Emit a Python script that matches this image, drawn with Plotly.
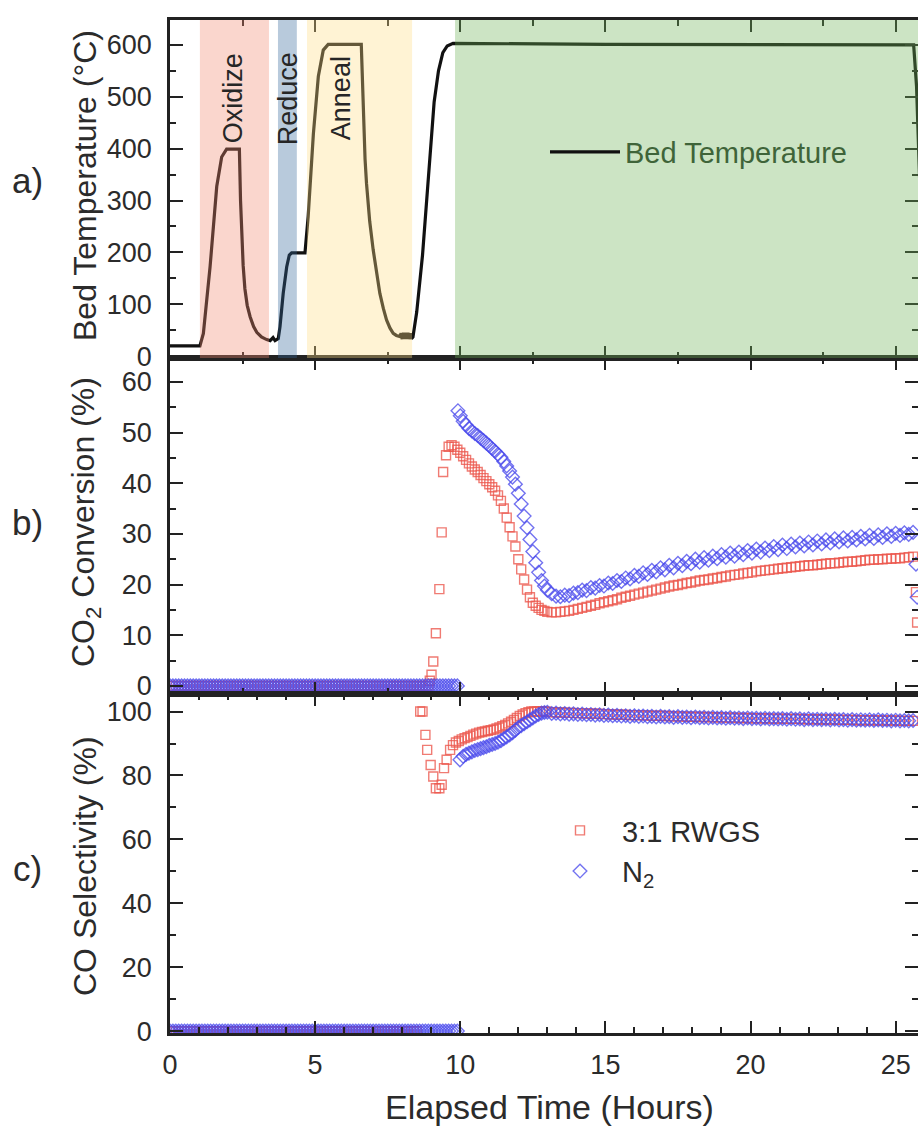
import plotly.graph_objects as go

# ---------------- data ----------------
# (a) bed temperature (hours, deg C)
temp_t = [0.0, 1.03, 1.15, 1.38, 1.61, 1.78, 1.95, 2.39, 2.43, 2.47, 2.52, 2.58, 2.66, 2.76, 2.88,
          2.99, 3.15, 3.33, 3.45, 3.55, 3.62,
          3.73, 3.79, 3.90, 4.02, 4.11, 4.19, 4.65, 4.76, 4.94, 5.11, 5.28, 5.45, 6.59, 6.63, 6.67,
          6.72, 6.77, 6.88, 7.00, 7.12, 7.23, 7.35, 7.46, 7.58, 7.69, 7.80,
          7.92, 7.96, 8.00, 8.04, 8.08, 8.12, 8.16, 8.20, 8.24, 8.28, 8.32, 8.37,
          8.50, 8.70, 8.90, 9.10, 9.25, 9.40, 9.55, 9.75, 15.0, 25.62, 25.72, 25.85]
temp_v = [20, 20, 44, 172, 327, 384, 399, 399, 300, 235, 175, 130, 98, 76, 57,
          46, 37, 32, 30, 36, 30,
          34, 57, 121, 172, 195, 199, 199, 269, 429, 539, 590, 601, 601, 520, 440,
          380, 333, 260, 205, 158, 121, 92, 70, 54, 44, 40,
          38, 44, 33, 45, 33, 45, 33, 45, 33, 44, 34, 37,
          85, 195, 345, 490, 550, 585, 598, 603, 601, 600, 520, 300]

# shaded process steps (hours)
step_names = ["Oxidize", "Reduce", "Anneal", "Reaction"]
step_start = [1.03, 3.72, 4.72, 9.82]
step_end = [3.41, 4.37, 8.34, 26.0]
step_colors = ["rgb(240,138,112)", "rgb(52,103,155)", "rgb(255,220,132)", "rgb(109,178,86)"]
label_x = [2.17, 4.06, 5.92]

# shared sampling times
base_t = [0.0, 0.1, 0.2, 0.3, 0.4, 0.5, 0.6, 0.7, 0.8, 0.9, 1.0, 1.1, 1.2, 1.3, 1.4, 1.5, 1.6, 1.7,
          1.8, 1.9, 2.0, 2.1, 2.2, 2.3, 2.4, 2.5, 2.6, 2.7, 2.8, 2.9, 3.0, 3.1, 3.2, 3.3, 3.4, 3.5,
          3.6, 3.7, 3.8, 3.9, 4.0, 4.1, 4.2, 4.3, 4.4, 4.5, 4.6, 4.7, 4.8, 4.9, 5.0, 5.1, 5.2, 5.3,
          5.4, 5.5, 5.6, 5.7, 5.8, 5.9, 6.0, 6.1, 6.2, 6.3, 6.4, 6.5, 6.6, 6.7, 6.8, 6.9, 7.0, 7.1,
          7.2, 7.3, 7.4, 7.5, 7.6, 7.7, 7.8, 7.9, 8.0, 8.1, 8.2, 8.3, 8.4, 8.5, 8.6, 8.7, 8.8, 8.9,
          9.0, 9.1, 9.2, 9.3, 9.4, 9.5, 9.6, 9.7, 9.8, 9.9]
late_t = [13.15, 13.30, 13.45, 13.60, 13.75, 13.90, 14.05, 14.20, 14.35, 14.50, 14.65, 14.80, 14.95,
          15.10, 15.25, 15.40, 15.55, 15.70, 15.85, 16.00, 16.15, 16.30, 16.45, 16.60, 16.75, 16.90,
          17.05, 17.20, 17.35, 17.50, 17.65, 17.80, 17.95, 18.10, 18.25, 18.40, 18.55, 18.70, 18.85,
          19.00, 19.15, 19.30, 19.45, 19.60, 19.75, 19.90, 20.05, 20.20, 20.35, 20.50, 20.65, 20.80,
          20.95, 21.10, 21.25, 21.40, 21.55, 21.70, 21.85, 22.00, 22.15, 22.30, 22.45, 22.60, 22.75,
          22.90, 23.05, 23.20, 23.35, 23.50, 23.65, 23.80, 23.95, 24.10, 24.25, 24.40, 24.55, 24.70,
          24.85, 25.00, 25.15, 25.30, 25.45, 25.60]

# (b) CO2 conversion (%)
rwgs_conv_base_n = 90
rwgs_conv_t = [8.95, 9.01, 9.07, 9.16, 9.28, 9.36, 9.41, 9.51, 9.60,
               9.7, 9.8, 9.9, 10.0, 10.1, 10.2, 10.3, 10.4, 10.5, 10.6, 10.7, 10.8, 10.9, 11.0, 11.1,
               11.2, 11.3, 11.4, 11.5, 11.6, 11.7, 11.8, 11.9, 12.0, 12.1, 12.2, 12.3, 12.4, 12.5,
               12.6, 12.7, 12.8, 12.9, 13.0]
rwgs_conv_v = [1.0, 2.2, 4.8, 10.4, 19.1, 30.3, 42.2, 45.5, 47.2,
               47.5, 47.2, 46.6, 46.0, 45.3, 44.6, 43.9, 43.3, 42.7, 42.2, 41.6, 41.0, 40.4, 39.8, 39.2,
               38.5, 37.6, 36.5, 35.0, 33.2, 31.3, 29.5, 27.5, 25.0, 23.0, 21.0, 19.0, 17.5, 16.4,
               15.8, 15.4, 15.0, 14.8, 14.6]
rwgs_conv_late = [14.5, 14.5, 14.6, 14.7, 14.8, 15.0, 15.2, 15.4, 15.6, 15.8, 16.0, 16.3, 16.5, 16.7,
                  16.9, 17.1, 17.4, 17.6, 17.8, 18.0, 18.2, 18.4, 18.6, 18.8, 19.0, 19.2, 19.4, 19.6,
                  19.8, 19.9, 20.1, 20.3, 20.4, 20.6, 20.8, 20.9, 21.0, 21.2, 21.3, 21.5, 21.6, 21.8,
                  21.9, 22.0, 22.2, 22.3, 22.4, 22.6, 22.7, 22.8, 22.9, 23.0, 23.1, 23.2, 23.3, 23.4,
                  23.5, 23.6, 23.7, 23.8, 23.8, 23.9, 24.0, 24.1, 24.2, 24.2, 24.3, 24.4, 24.5, 24.5,
                  24.6, 24.7, 24.8, 24.9, 24.9, 25.0, 25.0, 25.1, 25.1, 25.2, 25.2, 25.3, 25.4, 25.5]
rwgs_conv_end_t = [25.70, 25.74]
rwgs_conv_end_v = [18.5, 12.5]

n2_conv_t = [9.92, 10.0, 10.1, 10.2, 10.3, 10.4, 10.5, 10.6, 10.7, 10.8, 10.9, 11.0, 11.1, 11.2, 11.3,
             11.4, 11.5, 11.6, 11.7, 11.8, 11.9, 12.0, 12.1, 12.2, 12.3, 12.4, 12.5, 12.6, 12.7, 12.8,
             12.9, 13.0]
n2_conv_v = [54.3, 53.3, 52.2, 51.5, 50.8, 50.3, 49.8, 49.4, 48.9, 48.4, 47.9, 47.4, 46.8, 46.3, 45.7,
             45.1, 44.3, 43.4, 42.4, 41.2, 39.8, 38.0, 35.9, 33.5, 31.2, 28.9, 26.5, 24.3, 22.4, 20.8,
             19.7, 18.9]
n2_conv_late = [18.2, 17.7, 17.6, 17.9, 17.8, 18.3, 18.4, 18.9, 18.8, 19.4, 19.3, 19.8, 19.7, 20.3,
                20.2, 20.8, 20.6, 21.3, 21.1, 21.8, 21.6, 22.3, 22.0, 22.8, 22.5, 23.3, 22.9, 23.8,
                23.3, 24.2, 23.7, 24.6, 24.1, 25.0, 24.4, 25.3, 24.8, 25.6, 25.1, 25.9, 25.4, 26.2,
                25.6, 26.4, 25.9, 26.7, 26.2, 27.0, 26.4, 27.2, 26.7, 27.5, 26.9, 27.8, 27.1, 28.0,
                27.4, 28.2, 27.6, 28.4, 27.8, 28.6, 28.0, 28.8, 28.2, 29.0, 28.4, 29.2, 28.6, 29.3,
                28.8, 29.5, 29.0, 29.7, 29.1, 29.8, 29.3, 30.0, 29.5, 30.1, 29.7, 30.2, 29.9, 30.3]
n2_conv_end_t = [25.70, 25.74]
n2_conv_end_v = [24.0, 17.5]

# (c) CO selectivity (%)
rwgs_sel_base_n = 86
rwgs_sel_t = [8.62, 8.70, 8.80, 8.86, 8.98, 9.07, 9.16, 9.28, 9.36, 9.44, 9.53, 9.65, 9.75, 9.85,
              9.95, 10.05, 10.15, 10.25, 10.35, 10.45, 10.55, 10.65, 10.75, 10.85, 10.95, 11.05,
              11.15, 11.25, 11.35, 11.45, 11.55, 11.65, 11.75, 11.85, 11.95, 12.05, 12.15, 12.25,
              12.35, 12.45, 12.55, 12.65, 12.75, 12.85, 12.95]
rwgs_sel_v = [100.0, 100.0, 92.7, 88.0, 83.3, 79.7, 76.0, 76.0, 77.1, 82.3, 84.9, 88.0, 89.5, 90.3,
              90.8, 91.3, 91.7, 92.0, 92.4, 92.8, 93.1, 93.4, 93.6, 93.8, 94.0, 94.2,
              94.4, 94.7, 95.0, 95.4, 95.8, 96.3, 96.8, 97.4, 98.0, 98.6, 99.1, 99.5,
              99.8, 100.0, 100.0, 100.0, 100.0, 100.0, 100.0]
rwgs_sel_late = [99.8, 99.8, 99.7, 99.7, 99.6, 99.6, 99.5, 99.5, 99.4, 99.4,
                 99.3, 99.3, 99.2, 99.2, 99.1, 99.1, 99.0, 99.0, 98.9, 98.9,
                 98.9, 98.8, 98.8, 98.7, 98.7, 98.7, 98.6, 98.6, 98.5, 98.5,
                 98.5, 98.4, 98.4, 98.4, 98.3, 98.3, 98.3, 98.2, 98.2, 98.2,
                 98.1, 98.1, 98.1, 98.0, 98.0, 98.0, 97.9, 97.9, 97.9, 97.9,
                 97.8, 97.8, 97.8, 97.8, 97.7, 97.7, 97.7, 97.7, 97.6, 97.6,
                 97.6, 97.6, 97.5, 97.5, 97.5, 97.5, 97.4, 97.4, 97.4, 97.4,
                 97.3, 97.3, 97.3, 97.3, 97.3, 97.2, 97.2, 97.2, 97.2, 97.2,
                 97.1, 97.1, 97.1, 97.1]

n2_sel_t = [9.99, 10.1, 10.2, 10.3, 10.4, 10.5, 10.6, 10.7, 10.8, 10.9, 11.0, 11.1, 11.2, 11.3, 11.4,
            11.5, 11.6, 11.7, 11.8, 11.9, 12.0, 12.1, 12.2, 12.3, 12.4, 12.5, 12.6, 12.7, 12.8, 12.9,
            13.0]
n2_sel_v = [84.9, 86.0, 86.6, 87.0, 87.4, 87.8, 88.1, 88.4, 88.7, 89.0, 89.4, 89.7, 90.0, 90.4, 90.9,
            91.5, 92.1, 92.7, 93.4, 94.2, 95.0, 95.6, 96.2, 96.8, 97.4, 98.0, 98.6, 99.1, 99.5, 99.7,
            99.8]
n2_sel_late = [99.4, 99.5, 99.3, 99.4, 99.2, 99.3, 99.1, 99.2, 99.0, 99.1, 98.9, 99.0, 98.8, 98.9,
               98.7, 98.8, 98.6, 98.7, 98.5, 98.7, 98.5, 98.6, 98.4, 98.5, 98.3, 98.5, 98.3, 98.4,
               98.2, 98.4, 98.2, 98.3, 98.1, 98.3, 98.1, 98.2, 98.0, 98.2, 98.0, 98.1, 97.9, 98.1,
               97.9, 98.0, 97.8, 98.0, 97.8, 97.9, 97.7, 97.9, 97.7, 97.8, 97.7, 97.8, 97.6, 97.8,
               97.6, 97.7, 97.5, 97.7, 97.5, 97.6, 97.5, 97.6, 97.4, 97.6, 97.4, 97.5, 97.3, 97.5,
               97.3, 97.4, 97.3, 97.4, 97.2, 97.4, 97.2, 97.3, 97.1, 97.3, 97.1, 97.2, 97.1, 97.2]

# ---------------- assemble series ----------------
rwgs_c_x = base_t[:rwgs_conv_base_n] + rwgs_conv_t + late_t + rwgs_conv_end_t
rwgs_c_y = [0.0] * rwgs_conv_base_n + rwgs_conv_v + rwgs_conv_late + rwgs_conv_end_v
n2_c_x = base_t + n2_conv_t + late_t + n2_conv_end_t
n2_c_y = [0.0] * len(base_t) + n2_conv_v + n2_conv_late + n2_conv_end_v
rwgs_s_x = base_t[:rwgs_sel_base_n] + rwgs_sel_t + late_t
rwgs_s_y = [0.0] * rwgs_sel_base_n + rwgs_sel_v + rwgs_sel_late
n2_s_x = base_t + n2_sel_t + late_t
n2_s_y = [0.0] * len(base_t) + n2_sel_v + n2_sel_late

RED = "rgba(236,86,76,0.78)"
BLUE = "rgba(74,74,236,0.78)"
FONT = "Liberation Sans, Arial, sans-serif"
INK = "#2b2b2b"

fig = go.Figure()
fig.add_trace(go.Scatter(x=temp_t, y=temp_v, mode="lines", name="Bed Temperature",
                         line=dict(color="#111111", width=3.2), xaxis="x", yaxis="y",
                         legend="legend"))
sq = dict(symbol="square-open", size=9, color=RED, line=dict(width=1.4, color=RED))
dm = dict(symbol="diamond-open", size=10.5, color=BLUE, line=dict(width=1.4, color=BLUE))
fig.add_trace(go.Scatter(x=rwgs_c_x, y=rwgs_c_y, mode="markers", marker=sq, showlegend=False,
                         xaxis="x2", yaxis="y2"))
fig.add_trace(go.Scatter(x=n2_c_x, y=n2_c_y, mode="markers", marker=dm, showlegend=False,
                         xaxis="x2", yaxis="y2"))
fig.add_trace(go.Scatter(x=rwgs_s_x, y=rwgs_s_y, mode="markers", marker=sq, name="3:1 RWGS",
                         xaxis="x3", yaxis="y3", legend="legend2"))
fig.add_trace(go.Scatter(x=n2_s_x, y=n2_s_y, mode="markers", marker=dm, name="N<sub>2</sub>",
                         xaxis="x3", yaxis="y3", legend="legend2"))

# shaded steps (drawn over the line so it shows tinted, like the original)
for s, e, c in zip(step_start, step_end, step_colors):
    fig.add_shape(type="rect", xref="x", yref="y domain", x0=s, x1=e, y0=0, y1=1,
                  fillcolor=c, opacity=0.35, line=dict(width=0), layer="above")

W, H = 918, 1131
XL = 170 / W
def py(p):
    return 1 - p / H

xrange = [0, 25.77]
def xax(domain_anchor, minor_dtick, labels):
    return dict(domain=[XL, 1], range=xrange, anchor=domain_anchor, showline=True, mirror="ticks",
                linecolor="#222", linewidth=2.5, ticks="inside", ticklen=12, tickwidth=2,
                tickcolor="#222", dtick=5, tick0=0, showgrid=False, zeroline=False,
                automargin=False,
                showticklabels=labels, tickfont=dict(family=FONT, size=27, color=INK),
                ticklabelstandoff=6,
                minor=dict(ticks="inside", ticklen=6, tickwidth=2, tickcolor="#222",
                           dtick=minor_dtick, tick0=0, showgrid=False))

def yax(dom, rng, dtick, minor_dtick, anchor):
    return dict(domain=dom, range=rng, anchor=anchor, showline=True, mirror="ticks",
                linecolor="#222", linewidth=2.5, ticks="inside", ticklen=13, tickwidth=2,
                tickcolor="#222", dtick=dtick, tick0=0, showgrid=False, zeroline=False,
                automargin=False,
                tickfont=dict(family=FONT, size=27, color=INK), ticklabelstandoff=10,
                minor=dict(ticks="inside", ticklen=6, tickwidth=2, tickcolor="#222",
                           dtick=minor_dtick, tick0=0, showgrid=False))

fig.update_layout(
    template="none",
    width=W, height=H, margin=dict(l=0, r=0, t=0, b=0, autoexpand=False),
    paper_bgcolor="white", plot_bgcolor="white",
    xaxis=xax("y", 2.5, False),
    xaxis2=xax("y2", 2.5, False),
    xaxis3=xax("y3", 1, True),
    yaxis=yax([py(358), py(20)], [-3.5, 648], 100, 50, "x"),
    yaxis2=yax([py(694), py(358)], [-1.6, 64.7], 10, 5, "x2"),
    yaxis3=yax([py(1033), py(694)], [-0.6, 105.5], 20, 10, "x3"),
    legend=dict(x=545 / W, y=py(152), xanchor="left", yanchor="middle", bgcolor="rgba(0,0,0,0)",
                font=dict(family=FONT, size=29, color="#3f6439"), itemwidth=70,
                borderwidth=0),
    legend2=dict(x=538 / W, y=py(851), xanchor="left", yanchor="middle",
                 bgcolor="rgba(0,0,0,0)", font=dict(family=FONT, size=29, color=INK),
                 itemwidth=74, borderwidth=0, tracegroupgap=0),
)

ann = []
for name, lx in zip(step_names[:3], label_x):
    ann.append(dict(x=lx, y=497, xref="x", yref="y", text=name, textangle=-90, showarrow=False,
                    font=dict(family=FONT, size=27, color="#262626")))
titles = [("Bed Temperature (°C)", 186), ("CO<sub>2</sub> Conversion (%)", 522),
          ("CO Selectivity (%)", 866)]
for txt, yc in titles:
    ann.append(dict(x=85 / W, y=py(yc), xref="paper", yref="paper", text=txt, textangle=-90,
                    showarrow=False, xanchor="center", yanchor="middle",
                    font=dict(family=FONT, size=32, color=INK)))
for txt, yc in [("a)", 180), ("b)", 522), ("c)", 868)]:
    ann.append(dict(x=27 / W, y=py(yc), xref="paper", yref="paper", text=txt, showarrow=False,
                    xanchor="center", yanchor="middle", font=dict(family=FONT, size=35, color=INK)))
ann.append(dict(x=549 / W, y=py(1107), xref="paper", yref="paper", text="Elapsed Time (Hours)",
                showarrow=False, xanchor="center", yanchor="middle",
                font=dict(family=FONT, size=34, color=INK)))
fig.update_layout(annotations=ann)

fig.write_html("out.html")
